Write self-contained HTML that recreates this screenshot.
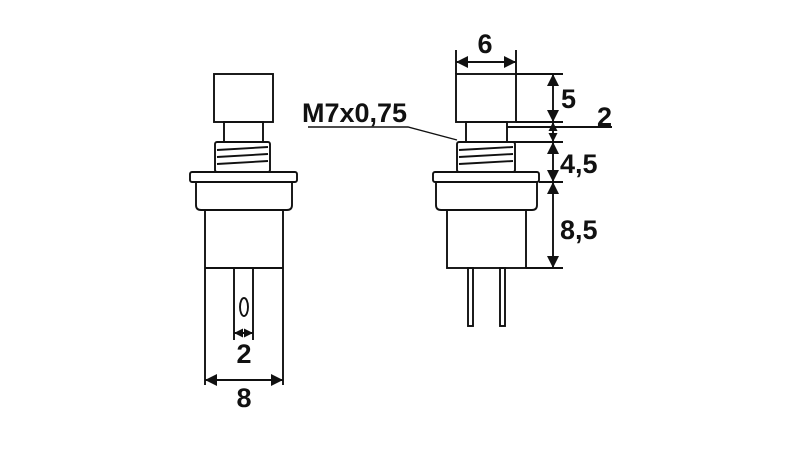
<!DOCTYPE html>
<html><head><style>
html,body{margin:0;padding:0;background:#fff;}
svg{display:block}
text{font-family:"Liberation Sans",Arial,sans-serif;font-weight:bold;font-size:27px;fill:#111}
</style></head><body>
<svg width="800" height="450" viewBox="0 0 800 450" xmlns="http://www.w3.org/2000/svg">
<defs>
<marker id="a" viewBox="0 0 10 10" refX="10" refY="5" markerWidth="12" markerHeight="12" orient="auto-start-reverse" markerUnits="userSpaceOnUse"><path d="M0,0 L10,5 L0,10 z" fill="#111"/></marker>
<marker id="b" viewBox="0 0 10 10" refX="10" refY="5" markerWidth="9" markerHeight="9" orient="auto-start-reverse" markerUnits="userSpaceOnUse"><path d="M0,0 L10,5 L0,10 z" fill="#111"/></marker>
</defs>
<g fill="none" stroke="#111" stroke-width="1.9">
<!-- LEFT VIEW -->
<rect x="214" y="74" width="59" height="48"/>
<rect x="224" y="122" width="39" height="20"/>
<rect x="215" y="142" width="55" height="30" rx="2"/>
<path d="M217,150 L268,147 M217,157 L268,154 M217,164 L268,161"/>
<rect x="190" y="172" width="107" height="10" rx="2"/>
<path d="M196,182 L196,205 Q196,210 201,210 L287,210 Q292,210 292,205 L292,182"/>
<path d="M205,210 L205,385 M283,210 L283,385 M205,268 L283,268"/>
<path d="M234,268 L234,340 M253,268 L253,340"/>
<ellipse cx="244" cy="307" rx="4" ry="9"/>
<line x1="234" y1="333" x2="253" y2="333" marker-start="url(#b)" marker-end="url(#b)"/>
<line x1="205" y1="380" x2="283" y2="380" marker-start="url(#a)" marker-end="url(#a)"/>
<!-- RIGHT VIEW -->
<rect x="456" y="74" width="60" height="48"/>
<rect x="466" y="122" width="41" height="20"/>
<rect x="457" y="142" width="58" height="30" rx="2"/>
<path d="M459,150 L513,147 M459,157 L513,154 M459,164 L513,161"/>
<rect x="433" y="172" width="106" height="10" rx="2"/>
<path d="M436,182 L436,205 Q436,210 441,210 L532,210 Q537,210 537,205 L537,182"/>
<rect x="447" y="210" width="79" height="58"/>
<rect x="468" y="268" width="5" height="58"/>
<rect x="500" y="268" width="5" height="58"/>
<!-- dims right -->
<path d="M456,74 L456,50 M516,74 L516,50"/>
<line x1="456" y1="62" x2="516" y2="62" marker-start="url(#a)" marker-end="url(#a)"/>
<path d="M516,74 L563,74 M516,122 L563,122 M507,127 L612,127 M507,142 L563,142 M539,182 L563,182 M526,268 L563,268"/>
<line x1="553" y1="74" x2="553" y2="122" marker-start="url(#a)" marker-end="url(#a)"/>
<line x1="553" y1="122" x2="553" y2="142" marker-start="url(#b)" marker-end="url(#b)"/>
<line x1="553" y1="142" x2="553" y2="182" marker-start="url(#a)" marker-end="url(#a)"/>
<line x1="553" y1="182" x2="553" y2="268" marker-start="url(#a)" marker-end="url(#a)"/>
<path d="M308,127 L408,127 L457,140" stroke-width="1.4"/>
</g>
<text x="302" y="122" font-size="27">M7x0,75</text>
<text x="485" y="53" text-anchor="middle">6</text>
<text x="561" y="108">5</text>
<text x="597" y="126">2</text>
<text x="560" y="173">4,5</text>
<text x="560" y="239">8,5</text>
<text x="244" y="363" text-anchor="middle">2</text>
<text x="244" y="407" text-anchor="middle">8</text>
</svg>
</body></html>
